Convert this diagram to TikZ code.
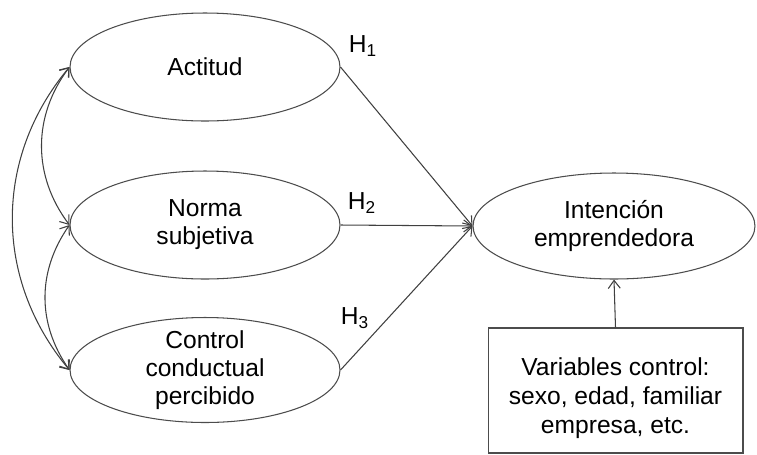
\documentclass[tikz,border=0pt]{standalone}
\usepackage{fontspec}
\setmainfont{Liberation Sans}
\usetikzlibrary{shapes.geometric,arrows.meta}

\tikzset{
  constructo/.style={draw=black!70, line width=0.6pt, ellipse, minimum width=5.4cm,
    minimum height=2.16cm, inner xsep=0pt, inner ysep=-4pt, align=center,
    font=\fontsize{14}{16}\selectfont},
  caja/.style={draw=black!70, line width=0.6pt, rectangle, minimum width=5.1cm,
    minimum height=2.5cm, align=center, font=\fontsize{14}{16.5}\selectfont},
  hlabel/.style={font=\fontsize{14}{16}\selectfont, inner sep=0pt},
  flecha/.style={draw=black!75, line width=0.6pt, -{Straight Barb[length=1.6mm,width=2.4mm]}},
  doble/.style={draw=black!75, line width=0.6pt,
    {Straight Barb[length=1.6mm,width=2.4mm]}-{Straight Barb[length=1.6mm,width=2.4mm]}}
}

\begin{document}
\begin{tikzpicture}[x=0.02cm,y=-0.02cm]
\useasboundingbox (0,0) rectangle (757,454);
% constructos
\node[constructo] (act) at (205,67) {Actitud};
\node[constructo] (norma) at (205,225) {Norma\\subjetiva};
\node[constructo, minimum height=2.1cm] (ctrl) at (205,370) {Control\\conductual\\percibido};
\node[constructo, minimum width=5.64cm, minimum height=2.12cm] (inten) at (614,226) {Intención\\emprendedora};
\node[caja] (vars) at (615.5,390.5) {\rule{0pt}{19pt}Variables control:\\sexo, edad, familiar\\empresa, etc.};
% hipotesis
\draw[flecha] (act.east) -- (inten.west);
\draw[flecha] (norma.east) -- (inten.west);
\draw[flecha] (ctrl.east) -- (inten.west);
\draw[flecha] (vars.north) -- (inten.south);
\node[hlabel] (h1) at (363,46) {H\textsubscript{1}};
\node[hlabel] (h2) at (362,203) {H\textsubscript{2}};
\node[hlabel] (h3) at (355,318) {H\textsubscript{3}};
% correlaciones
\draw[doble] (act.west) to[bend right=37] (norma.west);
\draw[doble] (norma.west) to[bend right=35] (ctrl.west);
\draw[doble] (act.west) to[bend right=40] (ctrl.west);
\end{tikzpicture}
\end{document}
